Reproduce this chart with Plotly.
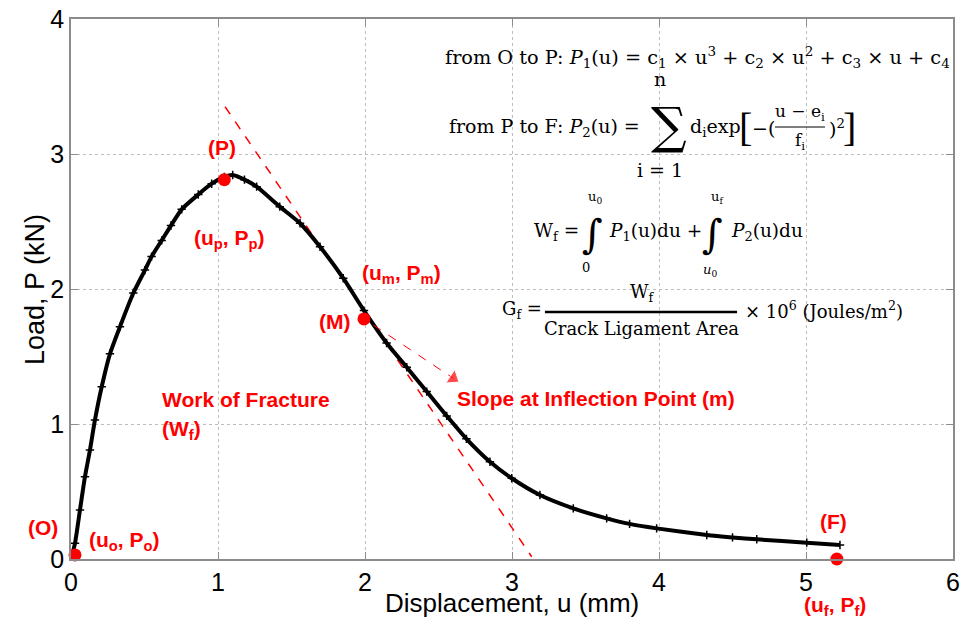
import plotly.graph_objects as go

# ---- data ----
u_disp = [0.005, 0.027, 0.061, 0.095, 0.129, 0.163, 0.209, 0.265, 0.333, 0.424, 0.503, 0.548,
          0.617, 0.68, 0.753, 0.866, 0.957, 1.043, 1.10, 1.18, 1.263, 1.42, 1.558, 1.694, 1.852,
          1.993, 2.147, 2.284, 2.42, 2.556, 2.69, 2.85, 2.998, 3.19, 3.417, 3.644, 3.80, 3.984,
          4.325, 4.50, 4.665, 5.005, 5.231]
load_kn = [0.02, 0.116, 0.363, 0.61, 0.807, 1.03, 1.276, 1.52, 1.72, 1.97, 2.14, 2.24,
           2.36, 2.47, 2.59, 2.70, 2.78, 2.83, 2.844, 2.81, 2.758, 2.61, 2.487, 2.313, 2.08,
           1.84, 1.60, 1.42, 1.24, 1.06, 0.89, 0.72, 0.598, 0.474, 0.375, 0.301, 0.26, 0.227,
           0.178, 0.16, 0.146, 0.121, 0.104]

key_u = [0.027, 1.043, 1.993, 5.21]          # O, P, M, F
key_p = [0.03, 2.81, 1.778, 0.0]

tangent_u = [1.048, 3.134]
tangent_p = [3.35, 0.017]

arrow_u = [2.057, 2.60]
arrow_p = [1.733, 1.339]

x_ticks = [0, 1, 2, 3, 4, 5, 6]
y_ticks = [0, 1, 2, 3, 4]

RED = "#ff0000"
SANS = "Liberation Sans, Arial, sans-serif"
SERIF = "DejaVu Serif, serif"

fig = go.Figure()

fig.add_trace(go.Scatter(x=tangent_u, y=tangent_p, mode="lines",
                         line=dict(color=RED, width=1.5, dash="dash"),
                         showlegend=False, hoverinfo="skip"))
fig.add_trace(go.Scatter(x=u_disp, y=load_kn, mode="lines+markers",
                         line=dict(color="black", width=4, shape="spline", smoothing=0.6),
                         marker=dict(symbol="cross-thin", size=6, color="black",
                                     line=dict(color="black", width=1.5)),
                         showlegend=False))
fig.add_trace(go.Scatter(x=arrow_u, y=arrow_p, mode="lines+markers",
                         line=dict(color=RED, width=1, dash="dash"),
                         marker=dict(symbol="triangle-up", size=[0, 14], color=RED,
                                     angleref="previous"),
                         showlegend=False, hoverinfo="skip"))
fig.add_trace(go.Scatter(x=key_u, y=key_p, mode="markers",
                         marker=dict(symbol="circle", size=13, color=RED),
                         showlegend=False, cliponaxis=False))

ann = []


def red(text, x, y, xanchor="center", ref="data"):
    xr, yr = ("x", "y") if ref == "data" else ("paper", "paper")
    ann.append(dict(text=text, x=x, y=y, xref=xr, yref=yr, showarrow=False,
                    xanchor=xanchor, yanchor="middle",
                    font=dict(family=SANS, size=21, color=RED, weight="bold")))


def blk(text, x, y, size=19, xanchor="left", family=SERIF):
    ann.append(dict(text=text, x=x, y=y, xref="x", yref="y", showarrow=False,
                    xanchor=xanchor, yanchor="middle",
                    font=dict(family=family, size=size, color="black")))


red("(P)", 1.027, 3.05)
red("(u<sub>p</sub>, P<sub>p</sub>)", 1.075, 2.37)
red("(u<sub>m</sub>, P<sub>m</sub>)", 2.245, 2.11)
red("(M)", 1.79, 1.763)
red("Work of Fracture", 0.605, 1.178, "left")
red("(W<sub>f</sub>)", 0.605, 0.955, "left")
red("Slope at Inflection Point (m)", 2.612, 1.19, "left")
red("(O)", -0.0323, 0.0583, ref="paper")
red("(u<sub>o</sub>, P<sub>o</sub>)", 0.109, 0.133, "left")
red("(F)", 5.19, 0.28)
red("(u<sub>f</sub>, P<sub>f</sub>)", 0.8662, -0.087, ref="paper")

# formula line 1
blk("from O to P: <i>P</i><sub>1</sub>(u) = c<sub>1</sub> × u<sup>3</sup> + c<sub>2</sub> × u<sup>2</sup>"
    " + c<sub>3</sub> × u + c<sub>4</sub>", 2.531, 3.719, size=19.3)
# formula line 2
blk("from P to F: <i>P</i><sub>2</sub>(u) =", 2.558, 3.193)
blk("∑", 4.07, 3.207, size=50, xanchor="center")
blk("n", 4.007, 3.555, xanchor="center")
blk("i = 1", 4.007, 2.881, xanchor="center")
blk("d<sub>i</sub>exp", 4.197, 3.193)
blk("[", 4.585, 3.193, size=40, xanchor="center", family="Liberation Serif, serif")
blk("−(", 4.619, 3.193)
blk("u − e<sub>i</sub>", 4.959, 3.304, size=17, xanchor="center")
blk("f<sub>i</sub>", 4.959, 3.096, size=17, xanchor="center")
blk(")<sup>2</sup>", 5.143, 3.193)
blk("]", 5.299, 3.193, size=40, xanchor="center", family="Liberation Serif, serif")
# formula line 3
blk("W<sub>f</sub> =", 3.136, 2.422, size=18.5)
blk("∫", 3.545, 2.41, size=40, xanchor="center")
blk("u<sub>0</sub>", 3.565, 2.68, size=13, xanchor="center")
blk("0", 3.50, 2.16, size=13, xanchor="center")
blk("<i>P</i><sub>1</sub>(u)du +", 3.645, 2.422, size=18.5)
blk("∫", 4.365, 2.41, size=40, xanchor="center")
blk("u<sub>f</sub>", 4.395, 2.68, size=13, xanchor="center")
blk("<i>u</i><sub>0</sub>", 4.345, 2.14, size=13, xanchor="center")
blk("<i>P</i><sub>2</sub>(u)du", 4.475, 2.422, size=18.5)
# formula line 4
blk("G<sub>f</sub> =", 2.918, 1.844, size=18)
blk("W<sub>f</sub>", 3.891, 1.97, size=18, xanchor="center")
blk("Crack Ligament Area", 3.878, 1.711, size=18, xanchor="center")
blk("× 10<sup>6</sup> (Joules/m<sup>2</sup>)", 4.571, 1.844, size=18)

# axis titles
ann.append(dict(text="Displacement, u (mm)", x=0.5, y=-0.0815, xref="paper", yref="paper",
                showarrow=False, xanchor="center", yanchor="middle",
                font=dict(family=SANS, size=26, color="black")))
ann.append(dict(text="Load, P (kN)", x=-0.0408, y=0.498, xref="paper", yref="paper",
                showarrow=False, xanchor="center", yanchor="middle", textangle=-90,
                font=dict(family=SANS, size=27, color="black")))

shapes = [
    dict(type="line", xref="x", yref="y", x0=4.789, x1=5.129, y0=3.20, y1=3.20,
         line=dict(color="black", width=1)),
    dict(type="line", xref="x", yref="y", x0=3.224, x1=4.531, y0=1.83, y1=1.83,
         line=dict(color="black", width=2.5)),
]

axis_common = dict(showline=True, linecolor="#8c8c8c", linewidth=1.5, mirror="ticks",
                   ticks="inside", ticklen=7, tickcolor="#8c8c8c", tickwidth=1,
                   showgrid=True, gridcolor="#bdbdbd", griddash="dot", gridwidth=1,
                   zeroline=False, automargin=False, ticklabeloverflow="allow",
                   tickfont=dict(family=SANS, size=25, color="black"))

# the page body has an 8 px margin, so the figure is 8 px smaller and margins shifted
fig.update_layout(
    width=965, height=615,
    margin=dict(l=63, r=20, t=11, b=64, autoexpand=False),
    paper_bgcolor="white", plot_bgcolor="white",
    annotations=ann, shapes=shapes,
    xaxis=dict(range=[0, 6], tickvals=x_ticks, **axis_common),
    yaxis=dict(range=[0, 4], tickvals=y_ticks, **axis_common),
)

fig.write_html("out.html")
